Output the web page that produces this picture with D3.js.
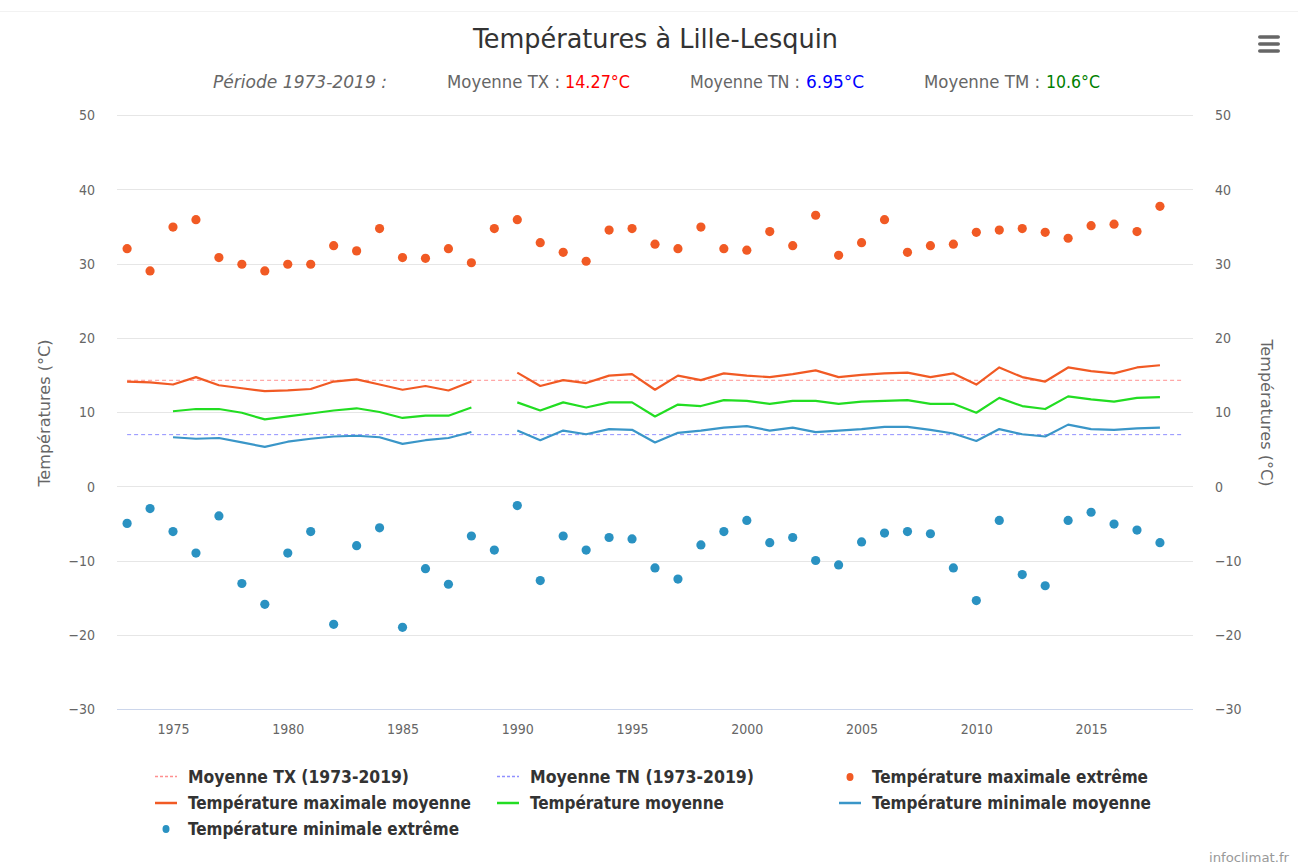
<!DOCTYPE html>
<html><head><meta charset="utf-8">
<script src="https://cdn.jsdelivr.net/npm/d3@7"></script>
<style>
body{margin:0;background:#fff;}
svg text{font-family:"DejaVu Sans Condensed","Liberation Sans Narrow","Roboto Condensed",sans-serif;}
</style></head>
<body><svg id="c" width="1298" height="867"></svg>
<script>
const years = [1973,1974,1975,1976,1977,1978,1979,1980,1981,1982,1983,1984,1985,1986,1987,1988,1989,1990,1991,1992,1993,1994,1995,1996,1997,1998,1999,2000,2001,2002,2003,2004,2005,2006,2007,2008,2009,2010,2011,2012,2013,2014,2015,2016,2017,2018];
const maxExtreme = [32.0,29.0,34.9,35.9,30.8,29.9,29.0,29.9,29.9,32.4,31.7,34.7,30.8,30.7,32.0,30.1,34.7,35.9,32.8,31.5,30.3,34.5,34.7,32.6,32.0,34.9,32.0,31.8,34.3,32.4,36.5,31.1,32.8,35.9,31.5,32.4,32.6,34.2,34.5,34.7,34.2,33.4,35.1,35.3,34.3,37.7];
const minExtreme = [-5.0,-3.0,-6.1,-9.0,-4.0,-13.1,-15.9,-9.0,-6.1,-18.6,-8.0,-5.6,-19.0,-11.1,-13.2,-6.7,-8.6,-2.6,-12.7,-6.7,-8.6,-6.9,-7.1,-11.0,-12.5,-7.9,-6.1,-4.6,-7.6,-6.9,-10.0,-10.6,-7.5,-6.3,-6.1,-6.4,-11.0,-15.4,-4.6,-11.9,-13.4,-4.6,-3.5,-5.1,-5.9,-7.6];
const maxMean = [14.1,14.0,13.7,14.7,13.6,13.2,12.8,12.9,13.1,14.1,14.4,13.7,13.0,13.5,12.9,14.1,null,15.3,13.5,14.3,13.9,14.9,15.1,13.0,14.9,14.3,15.2,14.9,14.7,15.1,15.6,14.7,15.0,15.2,15.3,14.7,15.2,13.7,16.0,14.7,14.1,16.0,15.5,15.2,16.0,16.3];
const meanT = [null,null,10.1,10.4,10.4,9.9,9.0,9.4,9.8,10.2,10.5,10.0,9.2,9.5,9.5,10.6,null,11.3,10.2,11.3,10.6,11.3,11.3,9.4,11.0,10.8,11.6,11.5,11.1,11.5,11.5,11.1,11.4,11.5,11.6,11.1,11.1,9.9,11.9,10.8,10.4,12.1,11.7,11.4,11.9,12.0];
const minMean = [null,null,6.6,6.4,6.5,5.9,5.3,6.0,6.4,6.7,6.8,6.6,5.7,6.2,6.5,7.3,null,7.5,6.2,7.5,7.0,7.7,7.6,5.9,7.2,7.5,7.9,8.1,7.5,7.9,7.3,7.5,7.7,8.0,8.0,7.6,7.1,6.1,7.7,7.0,6.7,8.3,7.7,7.6,7.8,7.9];
const periodStart = 1973, periodEnd = 2019;
const avgTX = 14.27, avgTN = 6.95, avgTM = 10.6;
const yTicks = [50,40,30,20,10,0,-10,-20,-30];
const xTicks = [1975,1980,1985,1990,1995,2000,2005,2010,2015];
const seriesNames = ["Moyenne TX (1973-2019)","Moyenne TN (1973-2019)","Température maximale extrême","Température maximale moyenne","Température moyenne","Température minimale moyenne","Température minimale extrême"];

const C = {orange:"#f15a24", green:"#22dd22", blueLine:"#3a96c8", blueDot:"#2a92c2", txDash:"#ff9090", tnDash:"#9090ff"};

const svg = d3.select("#c");
const L = 117, R = 1193, T = 115, B = 709;
const x = d3.scaleLinear().domain([1972.56, 2019.44]).range([L, R]);
const y = d3.scaleLinear().domain([-30, 50]).range([B, T]);

function fitText(sel, w){ return sel.attr("textLength", w).attr("lengthAdjust","spacingAndGlyphs"); }

// top border line
svg.append("line").attr("x1",0).attr("x2",1298).attr("y1",11.5).attr("y2",11.5).attr("stroke","#f2f2f2");

// grid
svg.append("g").selectAll("line").data(yTicks).join("line")
  .attr("x1",L).attr("x2",R).attr("y1",d=>Math.round(y(d))+0.5).attr("y2",d=>Math.round(y(d))+0.5)
  .attr("stroke","#e6e6e6").attr("stroke-width",1);

// x axis
const xa = svg.append("g").attr("transform",`translate(0,${B})`)
  .call(d3.axisBottom(x).tickValues(xTicks).tickFormat(d3.format("d")).tickSize(0).tickPadding(15));
xa.select(".domain").attr("stroke","#ccd6eb").attr("d",`M${L},0.5H${R}`);
xa.selectAll("text").attr("fill","#666").attr("font-size",14);

// y axes
const fmtY = d=>d<0?"−"+Math.abs(d):d;
const ya = svg.append("g").attr("transform",`translate(${L-22},0)`)
  .call(d3.axisLeft(y).tickValues(yTicks).tickFormat(fmtY).tickSize(0).tickPadding(0));
ya.select(".domain").remove();
ya.selectAll("text").attr("fill","#666").attr("font-size",14).attr("dy","0.35em");
const yb = svg.append("g").attr("transform",`translate(${R+22},0)`)
  .call(d3.axisRight(y).tickValues(yTicks).tickFormat(fmtY).tickSize(0).tickPadding(0));
yb.select(".domain").remove();
yb.selectAll("text").attr("fill","#666").attr("font-size",14).attr("dy","0.35em");

// axis titles
fitText(svg.append("text").attr("transform",`translate(50,${(T+B)/2+1}) rotate(-90)`).attr("text-anchor","middle")
  .attr("fill","#666").attr("font-size",16).text("Températures (°C)"),147);
fitText(svg.append("text").attr("transform",`translate(1261,${(T+B)/2+1}) rotate(90)`).attr("text-anchor","middle")
  .attr("fill","#666").attr("font-size",16).text("Températures (°C)"),147);

// dashed averages
svg.append("line").attr("x1",x(periodStart)).attr("x2",x(periodEnd)).attr("y1",y(avgTX)).attr("y2",y(avgTX))
  .attr("stroke",C.txDash).attr("stroke-width",1).attr("stroke-dasharray","4,3");
svg.append("line").attr("x1",x(periodStart)).attr("x2",x(periodEnd)).attr("y1",y(avgTN)).attr("y2",y(avgTN))
  .attr("stroke",C.tnDash).attr("stroke-width",1).attr("stroke-dasharray","4,3");

// lines
const line = d3.line().defined(d=>d[1]!==null).x(d=>x(d[0])).y(d=>y(d[1]));
[[maxMean,C.orange],[meanT,C.green],[minMean,C.blueLine]].forEach(([arr,col])=>{
  svg.append("path").datum(years.map((yr,i)=>[yr,arr[i]])).attr("d",line)
    .attr("fill","none").attr("stroke",col).attr("stroke-width",2.2).attr("stroke-linejoin","round");
});

// scatter
[[maxExtreme,C.orange],[minExtreme,C.blueDot]].forEach(([arr,col])=>{
  svg.append("g").selectAll("circle").data(years.map((yr,i)=>[yr,arr[i]])).join("circle")
    .attr("cx",d=>x(d[0])).attr("cy",d=>y(d[1])).attr("r",4.6).attr("fill",col);
});

// title
fitText(svg.append("text").attr("x",473).attr("y",48).attr("fill","#333")
  .attr("font-size",27).text("Températures à Lille-Lesquin"),365);

// subtitle
const subY = 88;
const subParts = [
  {x:213,w:174,t:"Période 1973-2019 :",c:"#666",i:true},
  {x:447,w:113,t:"Moyenne TX :",c:"#666"},
  {x:565,w:65,t:avgTX+"°C",c:"#ff0000"},
  {x:690,w:110,t:"Moyenne TN :",c:"#666"},
  {x:806,w:58,t:avgTN+"°C",c:"#0000ff"},
  {x:924,w:116,t:"Moyenne TM :",c:"#666"},
  {x:1046,w:54,t:avgTM+"°C",c:"#008000"}
];
subParts.forEach(p=>{
  const t = svg.append("text").attr("x",p.x).attr("y",subY).attr("font-size",17).attr("fill",p.c).text(p.t);
  if(p.i) t.attr("font-style","italic");
  fitText(t,p.w);
});

// legend
const legCols = [155, 497, 839];
const legRows = [777, 803, 829];
const legWidths = [221,224,276,283,194,279,271];
const legItems = [
  {t:"dash",c:C.txDash},{t:"dash",c:C.tnDash},{t:"dot",c:C.orange},
  {t:"line",c:C.orange},{t:"line",c:C.green},{t:"line",c:C.blueLine},
  {t:"dot",c:C.blueDot}
];
legItems.forEach((it,i)=>{
  const cx = legCols[i%3], cy = legRows[Math.floor(i/3)];
  const g = svg.append("g").attr("transform",`translate(${cx},${cy})`);
  if(it.t==="dash") g.append("line").attr("x1",0).attr("x2",22).attr("y1",-0.5).attr("y2",-0.5).attr("stroke",it.c).attr("stroke-width",1.5).attr("stroke-dasharray","3,2");
  else if(it.t==="line") g.append("line").attr("x1",0).attr("x2",22).attr("y1",0).attr("y2",0).attr("stroke",it.c).attr("stroke-width",2.5);
  else g.append("ellipse").attr("cx",11).attr("cy",0).attr("rx",3.5).attr("ry",4).attr("fill",it.c);
  fitText(g.append("text").attr("x",33).attr("y",6).attr("font-size",17).attr("font-weight","bold").attr("fill","#333").text(seriesNames[i]), legWidths[i]);
});

// menu icon
[37,44,51].forEach(yy=>svg.append("rect").attr("x",1258).attr("y",yy-1.75).attr("width",22).attr("height",3.5).attr("rx",1.75).attr("fill","#666"));

// credits
fitText(svg.append("text").attr("x",1209).attr("y",862).attr("font-size",12).attr("fill","#999").text("infoclimat.fr"),80);
</script></body></html>
